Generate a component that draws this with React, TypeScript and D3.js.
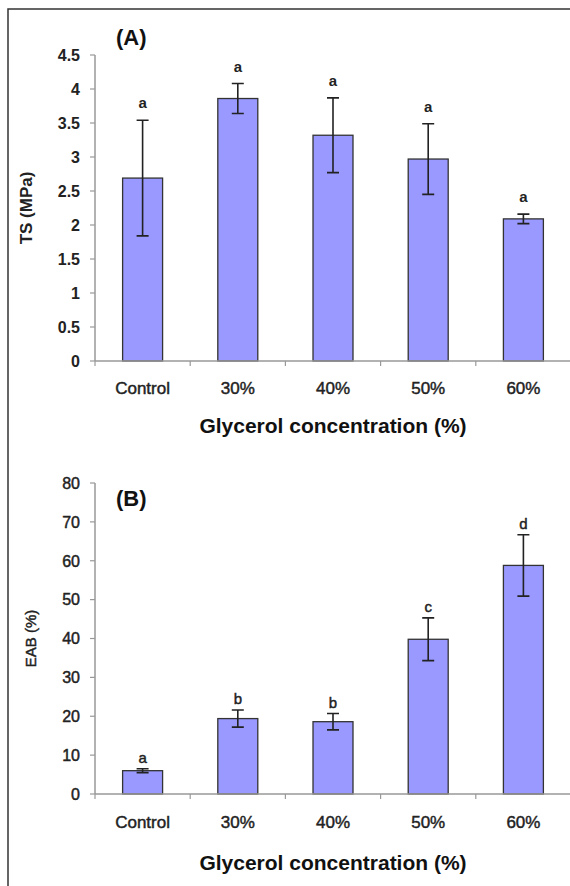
import React, { useEffect, useRef } from "react"
import * as d3 from "d3"

// Glycerol concentration categories
const categories = ["Control", "30%", "40%", "50%", "60%"]

// (A) tensile strength, MPa
const tsMean = [2.69, 3.86, 3.32, 2.97, 2.09]
const tsErr = [0.85, 0.22, 0.55, 0.52, 0.07]
const tsLetters = ["a", "a", "a", "a", "a"]
const tsTicks = [0, 0.5, 1, 1.5, 2, 2.5, 3, 3.5, 4, 4.5]

// (B) elongation at break, %
const eabMean = [6.0, 19.4, 18.6, 39.8, 58.8]
const eabErr = [0.5, 2.2, 2.1, 5.5, 7.9]
const eabLetters = ["a", "b", "b", "c", "d"]
const eabTicks = [0, 10, 20, 30, 40, 50, 60, 70, 80]

const W = 570
const H = 886
const FONT = "'Liberation Sans', Arial, sans-serif"

const App = () => {
	const ref = useRef<SVGSVGElement>(null)

	useEffect(() => {
		document.body.style.margin = "0"
		const svg = d3.select(ref.current).attr("width", W).attr("height", H)
		svg.selectAll("*").remove()

		svg.append("rect").attr("width", W).attr("height", H).attr("fill", "#fff")

		// outer frame (left and top edges)
		svg
			.append("path")
			.attr("d", `M8,${H} L8,9 L${W},9`)
			.attr("fill", "none")
			.attr("stroke", "#333")
			.attr("stroke-width", 1.5)

		const x = d3
			.scaleBand()
			.domain(categories)
			.range([95, 571])
			.paddingInner(0.58)
			.paddingOuter(0.29)

		// regular text in the scan looks a little heavier than a true regular
		const medium = sel => sel.attr("stroke", "#222").attr("stroke-width", 0.45)

		const drawPanel = (opts) => {
			const {
				mean,
				err,
				letters,
				ticks,
				yTop,
				yBottom,
				title,
				titleBold,
				titleX,
				tag,
				tagY,
				tickBold,
				letterBold,
				letterGap,
				labelY,
				xTitleY,
			} = opts
			const y = d3
				.scaleLinear()
				.domain([0, ticks[ticks.length - 1]])
				.range([yBottom, yTop])
			const g = svg.append("g")

			// y axis
			g.append("line")
				.attr("x1", x.range()[0])
				.attr("x2", x.range()[0])
				.attr("y1", y(0))
				.attr("y2", y(ticks[ticks.length - 1]))
				.attr("stroke", "#999")
				.attr("stroke-width", 1.5)
			ticks.forEach(t => {
				g.append("line")
					.attr("x1", x.range()[0] - 5)
					.attr("x2", x.range()[0])
					.attr("y1", y(t))
					.attr("y2", y(t))
					.attr("stroke", "#999")
					.attr("stroke-width", 1.2)
				const lab = g
					.append("text")
					.attr("x", 80)
					.attr("y", y(t))
					.attr("dy", "0.36em")
					.attr("text-anchor", "end")
					.style("font-family", FONT)
					.style("font-size", "16px")
					.style("font-weight", tickBold ? "bold" : "normal")
					.attr("fill", "#222")
					.text(d3.format("~g")(t))
				if (!tickBold) medium(lab)
			})

			// bars
			g.selectAll("rect.bar")
				.data(categories)
				.join("rect")
				.attr("class", "bar")
				.attr("x", d => x(d))
				.attr("width", x.bandwidth())
				.attr("y", (_, i) => y(mean[i]))
				.attr("height", (_, i) => y(0) - y(mean[i]))
				.attr("fill", "#9999ff")
				.attr("stroke", "#333")
				.attr("stroke-width", 1.3)

			// x axis
			g.append("line")
				.attr("x1", x.range()[0])
				.attr("x2", x.range()[1])
				.attr("y1", y(0))
				.attr("y2", y(0))
				.attr("stroke", "#999")
				.attr("stroke-width", 1.5)
			d3.range(categories.length + 1).forEach(i => {
				const tx = x.range()[0] + i * x.step()
				g.append("line")
					.attr("x1", tx)
					.attr("x2", tx)
					.attr("y1", y(0))
					.attr("y2", y(0) + 5)
					.attr("stroke", "#999")
					.attr("stroke-width", 1.2)
			})

			// error bars and letters
			categories.forEach((c, i) => {
				const cx = x(c) + x.bandwidth() / 2
				const hi = y(mean[i] + err[i])
				const lo = y(mean[i] - err[i])
				g.append("path")
					.attr(
						"d",
						`M${cx},${hi} L${cx},${lo} M${cx - 6},${hi} L${cx + 6},${hi} M${cx - 6},${lo} L${cx + 6},${lo}`,
					)
					.attr("stroke", "#222")
					.attr("stroke-width", 1.6)
					.attr("fill", "none")
				const let_ = g
					.append("text")
					.attr("x", cx)
					.attr("y", hi - letterGap)
					.attr("text-anchor", "middle")
					.style("font-family", FONT)
					.style("font-size", "15px")
					.style("font-weight", letterBold ? "bold" : "normal")
					.attr("fill", "#222")
					.text(letters[i])
				if (!letterBold) medium(let_)
				medium(
					g
						.append("text")
						.attr("x", cx)
						.attr("y", labelY)
						.attr("text-anchor", "middle")
						.style("font-family", FONT)
						.style("font-size", "17px")
						.attr("fill", "#222")
						.text(c),
				)
			})

			// titles
			g.append("text")
				.attr("x", (x.range()[0] + x.range()[1]) / 2)
				.attr("y", xTitleY)
				.attr("text-anchor", "middle")
				.style("font-family", FONT)
				.style("font-size", "21px")
				.style("font-weight", "bold")
				.attr("fill", "#111")
				.text("Glycerol concentration (%)")
			const yt = g
				.append("text")
				.attr("transform", `translate(${titleX},${(y(0) + y(ticks[ticks.length - 1])) / 2}) rotate(-90)`)
				.attr("text-anchor", "middle")
				.style("font-family", FONT)
				.style("font-size", titleBold ? "17px" : "15px")
				.style("font-weight", titleBold ? "bold" : "normal")
				.attr("fill", "#222")
				.text(title)
			if (!titleBold) medium(yt)
			g.append("text")
				.attr("x", 116)
				.attr("y", tagY)
				.style("font-family", FONT)
				.style("font-size", "22px")
				.style("font-weight", "bold")
				.attr("fill", "#111")
				.text(tag)
		}

		drawPanel({
			mean: tsMean,
			err: tsErr,
			letters: tsLetters,
			ticks: tsTicks,
			yTop: 55,
			yBottom: 361,
			title: "TS (MPa)",
			titleBold: true,
			titleX: 32,
			tag: "(A)",
			tagY: 45,
			tickBold: true,
			letterBold: true,
			letterGap: 12,
			labelY: 394,
			xTitleY: 433,
		})

		drawPanel({
			mean: eabMean,
			err: eabErr,
			letters: eabLetters,
			ticks: eabTicks,
			yTop: 483,
			yBottom: 794,
			title: "EAB (%)",
			titleBold: false,
			titleX: 36,
			tag: "(B)",
			tagY: 506,
			tickBold: false,
			letterBold: false,
			letterGap: 6,
			labelY: 828,
			xTitleY: 870,
		})
	}, [])

	return <svg ref={ref} style={{ display: "block" }}></svg>
}

export default App
